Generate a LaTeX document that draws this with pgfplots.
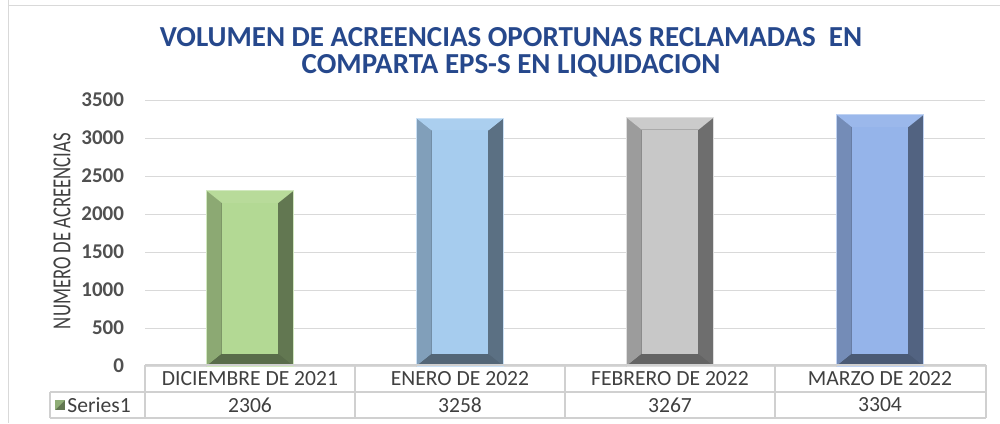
\documentclass[border=0pt]{standalone}
\usepackage{pgfplots}
\pgfplotsset{compat=1.18}
\usepackage{fontspec}
\setmainfont{Carlito}
\definecolor{titleblue}{RGB}{38,72,140}
\definecolor{txtgray}{RGB}{64,64,64}
\definecolor{tickgray}{RGB}{80,80,80}
\definecolor{gridgray}{RGB}{217,217,217}
\definecolor{tablegray}{RGB}{208,208,208}
\definecolor{faceA}{RGB}{179,217,148}
\definecolor{faceB}{RGB}{166,204,238}
\definecolor{faceC}{RGB}{200,200,200}
\definecolor{faceD}{RGB}{149,180,234}

% bevelled bar: center, value, face colour
\newcommand\bevelbar[3]{%
  \pgfmathsetmacro\xl{#1-0.207}\pgfmathsetmacro\xr{#1+0.207}%
  \pgfmathsetmacro\xli{#1-0.207+0.0714}\pgfmathsetmacro\xri{#1+0.207-0.0714}%
  \pgfmathsetmacro\yt{#2}\pgfmathsetmacro\yti{#2-158}%
  \def\ybi{158}%
  \edef\temp{%
    \noexpand\addplot[forget plot,fill=#3!55!black,draw=none] coordinates {(\xl,0) (\xr,0) (\xr,\yt) (\xl,\yt)};
    \noexpand\addplot[forget plot,fill=#3!78!black,draw=none] coordinates {(\xl,0) (\xli,\ybi) (\xli,\yti) (\xl,\yt)};
    \noexpand\addplot[forget plot,fill=#3!50!black,draw=none] coordinates {(\xl,0) (\xr,0) (\xri,\ybi) (\xli,\ybi)};
    \noexpand\addplot[forget plot,fill=#3!94!white,draw=none] coordinates {(\xl,\yt) (\xr,\yt) (\xri,\yti) (\xli,\yti)};
    \noexpand\addplot[forget plot,fill=#3,draw=none] coordinates {(\xli,\ybi) (\xri,\ybi) (\xri,\yti) (\xli,\yti)};
    \noexpand\addplot[forget plot,draw=#3!60!white,line width=0.4pt] coordinates {(\xl,0) (\xr,0) (\xr,\yt) (\xl,\yt) (\xl,0)};
  }\temp}

\begin{document}
\begin{tikzpicture}[x=0.5pt,y=0.5pt]
\path[use as bounding box] (0,0) rectangle (1000,423);
\draw[gridgray,line width=0.5pt] (8,423) -- (8,0);
\draw[gridgray,line width=0.5pt] (8,417) -- (1000,417);

\node[font=\bfseries\fontsize{14.5}{16}\selectfont,text=titleblue] at (511,386) {VOLUMEN DE ACREENCIAS OPORTUNAS RECLAMADAS\ \ EN};
\node[font=\bfseries\fontsize{14.5}{16}\selectfont,text=titleblue] at (511,357) {COMPARTA EPS-S EN LIQUIDACION};

\begin{axis}[
  at={(72.5pt,28.5pt)}, anchor=south west,
  scale only axis, width=420pt, height=133pt,
  xmin=-0.5, xmax=3.5, ymin=0, ymax=3500,
  ytick={0,500,...,3500}, xtick=\empty,
  ymajorgrids, grid style={gridgray,line width=0.5pt},
  axis line style={draw=none}, major tick length=0,
  yticklabel style={font=\bfseries\fontsize{10.5}{12}\selectfont,text=tickgray,xshift=-7pt},
  /pgf/number format/assume math mode=true,
  /pgf/number format/1000 sep={},
  clip=false,
]
\bevelbar{0}{2306}{faceA}
\bevelbar{1}{3258}{faceB}
\bevelbar{2}{3267}{faceC}
\bevelbar{3}{3304}{faceD}
\end{axis}

\node[rotate=90,text=txtgray,font=\fontsize{13}{15}\selectfont] at (62,192) {\scalebox{0.72}[1]{NUMERO DE ACREENCIAS}};

% data table
\begin{scope}[tablegray,line width=0.6pt]
\draw (145,58) -- (986,58);
\draw (50,31) -- (986,31);
\draw (50,5) -- (986,5);
\foreach \x in {145,355,565,775,986} \draw (\x,58) -- (\x,5);
\draw (50,31) -- (50,5);
\end{scope}
\begin{scope}[text=txtgray,font=\fontsize{10.8}{12}\selectfont]
\node at (250,44) {DICIEMBRE DE 2021};
\node at (460,44) {ENERO DE 2022};
\node at (670,44) {FEBRERO DE 2022};
\node at (880,44) {MARZO DE 2022};
\node at (250,18) {2306};
\node at (460,18) {3258};
\node at (670,18) {3267};
\node at (880,18) {3304};
\node[anchor=west,inner sep=0pt] at (67,18) {Series1};
\end{scope}
\fill[faceA!55!black] (55,13) rectangle (65,23);
\fill[faceA!80!black] (55,13) -- (55,23) -- (65,23) -- cycle;
\end{tikzpicture}
\end{document}
